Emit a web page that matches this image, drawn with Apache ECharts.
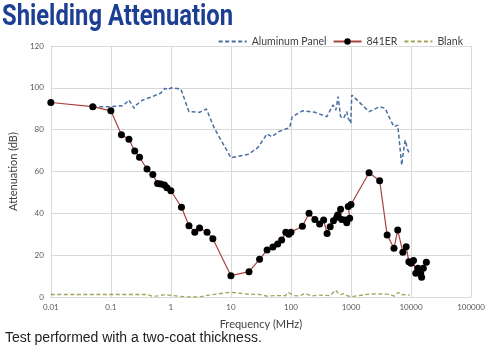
<!DOCTYPE html>
<html>
<head>
<meta charset="utf-8">
<script src="https://cdn.jsdelivr.net/npm/echarts@6/dist/echarts.min.js"></script>
<style>
    html, body { margin: 0; padding: 0; background: #fff; }
    #chart { width: 488px; height: 353px; }
</style>
</head>
<body>
<div id="chart"></div>
<script>
// 数据: [频率(MHz), 衰减(dB)]
const aluminumPanel = [
    [0.05, 91], [0.1, 91], [0.16, 91.4], [0.2, 94.2], [0.245, 90.2], [0.27, 92], [0.34, 94.2],
    [0.49, 95.8], [0.67, 97.4], [0.8, 99.8], [0.88, 99], [1.0, 100], [1.47, 99.4], [2.0, 88.6],
    [3.0, 88.3], [3.9, 89.9], [5.3, 80.6], [10, 66.6], [19.4, 68.2], [28, 71.4], [40, 78],
    [48, 76.6], [62, 79], [95, 81], [105, 86.2], [155, 89], [250, 88.3], [396, 86.2], [500, 91.8],
    [560, 89.4], [610, 95.8], [670, 86.2], [750, 85.4], [850, 88.6], [900, 85.4], [990, 83],
    [1030, 96.6], [2000, 88.6], [3000, 91], [3700, 90.2], [4700, 83.8], [5200, 81.4], [6000, 82.2],
    [7000, 63], [7500, 70], [8000, 75], [8800, 70.3], [9400, 68.7]
];
const er841 = [
    [0.01, 93], [0.05, 91], [0.1, 89], [0.15, 77.6], [0.2, 75.4], [0.25, 69.8], [0.3, 66.8],
    [0.4, 61.2], [0.5, 58.6], [0.6, 54.3], [0.68, 54], [0.78, 53.5], [0.86, 52.2], [1.0, 50.8],
    [1.5, 42.9], [2, 34.1], [2.5, 31], [3, 33], [4, 31], [5, 27.9], [10, 10.2], [20, 12.1],
    [30, 18], [40, 22.5], [50, 23.9], [60, 25.3], [70, 27.2], [82, 30.9], [92, 30], [100, 31],
    [155, 33.8], [200, 40], [250, 37.1], [300, 34.9], [350, 36.8], [400, 30.4], [450, 33.6],
    [510, 36.5], [580, 38.1], [600, 39.2], [670, 41.9], [700, 37.1], [800, 36.8], [850, 35.5],
    [950, 37.6], [900, 43.3], [1000, 44.2], [2000, 59.4], [3000, 55.6], [4000, 29.6], [5200, 23.3],
    [6000, 32], [7300, 21.4], [8300, 24], [9200, 16.9], [10000, 16.1], [11000, 17.4], [12000, 11.3],
    [13000, 13.7], [14500, 11.3], [15000, 9.4], [16000, 13.7], [18000, 16.6]
];
const blank = [
    [0.01, 1.2], [0.4, 1.2], [0.5, 0.3], [0.6, 0.5], [0.8, 1.2], [1, 0.8], [1.3, 0.4], [2, 0],
    [3, 0], [4.5, 1], [10, 2.3], [20, 1.3], [30, 1.2], [40, 0.4], [60, 0.7], [80, 0.6], [90, 2.2],
    [110, 0.7], [140, 0.5], [170, 1.8], [220, 0.5], [300, 0.9], [450, 0.6], [550, 3.3], [650, 1],
    [750, 1.6], [900, 0.4], [1100, 0.3], [2000, 1.4], [3000, 1.5], [4500, 1.2], [5200, 0.4],
    [6200, 2.3], [7000, 1.2], [9500, 0.9]
];
const xTickLabels = ['0.01', '0.1', '1', '10', '100', '1000', '10000', '100000'];

renderChart();

function renderChart() {
    let chart = echarts.init(document.getElementById("chart"));
    const gridColor = "#d9d9d9";
    const labelColor = "#595959";

    let option = {
        animation: false,
        // 标题用graphic文字, 横向压缩模拟窄体字
        graphic: [{
            type: "text",
            left: 2,
            top: 3,
            scaleX: 0.82,
            style: {
                text: "Shielding Attenuation",
                font: "bold 29px Roboto",
                fill: "#1c3f94"
            }
        }],
        title: {
            text: "Test performed with a two-coat thickness.",
            left: 0,
            top: 326,
            textStyle: {
                fontFamily: "Liberation Sans",
                fontSize: 14,
                fontWeight: "normal",
                color: "#222"
            }
        },
        legend: {
            right: 20,
            top: 31,
            itemWidth: 28,
            itemHeight: 8,
            itemGap: 6,
            textStyle: { fontFamily: "Lato", fontSize: 10.5, color: "#404040" },
            data: [
                { name: "Aluminum Panel", itemStyle: { opacity: 0 } },
                { name: "841ER", itemStyle: { color: "#000" } },
                { name: "Blank", itemStyle: { opacity: 0 } }
            ]
        },
        grid: {
            left: 34,
            right: 15,
            top: 46,
            bottom: 56
        },
        xAxis: {
            type: "log",
            logBase: 10,
            min: 0.01,
            max: 100000,
            name: "Frequency (MHz)",
            nameLocation: "middle",
            nameGap: 22,
            nameTextStyle: { fontFamily: "Lato", fontSize: 11, color: "#404040" },
            axisLine: { lineStyle: { color: gridColor } },
            axisTick: { show: false },
            splitLine: { show: true, lineStyle: { color: gridColor } },
            axisLabel: {
                fontFamily: "Lato",
                fontSize: 8,
                color: labelColor,
                margin: 6,
                formatter: function (v) {
                    let idx = Math.round(Math.log10(v)) + 2;
                    return xTickLabels[idx] || "";
                }
            }
        },
        yAxis: {
            type: "value",
            min: 0,
            max: 120,
            interval: 20,
            name: "Attenuation (dB)",
            nameLocation: "middle",
            nameGap: 20,
            nameTextStyle: { fontFamily: "Lato", fontSize: 11, color: "#404040" },
            axisLine: { show: true, lineStyle: { color: gridColor } },
            axisTick: { show: false },
            splitLine: { lineStyle: { color: gridColor } },
            axisLabel: { fontFamily: "Lato", fontSize: 8, color: labelColor, margin: 7 }
        },
        series: [{
            name: "Aluminum Panel",
            type: "line",
            data: aluminumPanel,
            symbol: "none",
            color: "#4a6f9f",
            lineStyle: { width: 1.5, type: [4, 2.5] }
        }, {
            name: "841ER",
            type: "line",
            data: er841,
            symbol: "circle",
            symbolSize: 7,
            color: "#a8423f",
            itemStyle: { color: "#000" },
            lineStyle: { width: 1.2, color: "#a8423f" },
            z: 3
        }, {
            name: "Blank",
            type: "line",
            data: blank,
            symbol: "none",
            color: "#a3a35a",
            lineStyle: { width: 1.3, type: [4, 2.5] }
        }]
    };

    chart.setOption(option);
}
</script>
</body>
</html>
